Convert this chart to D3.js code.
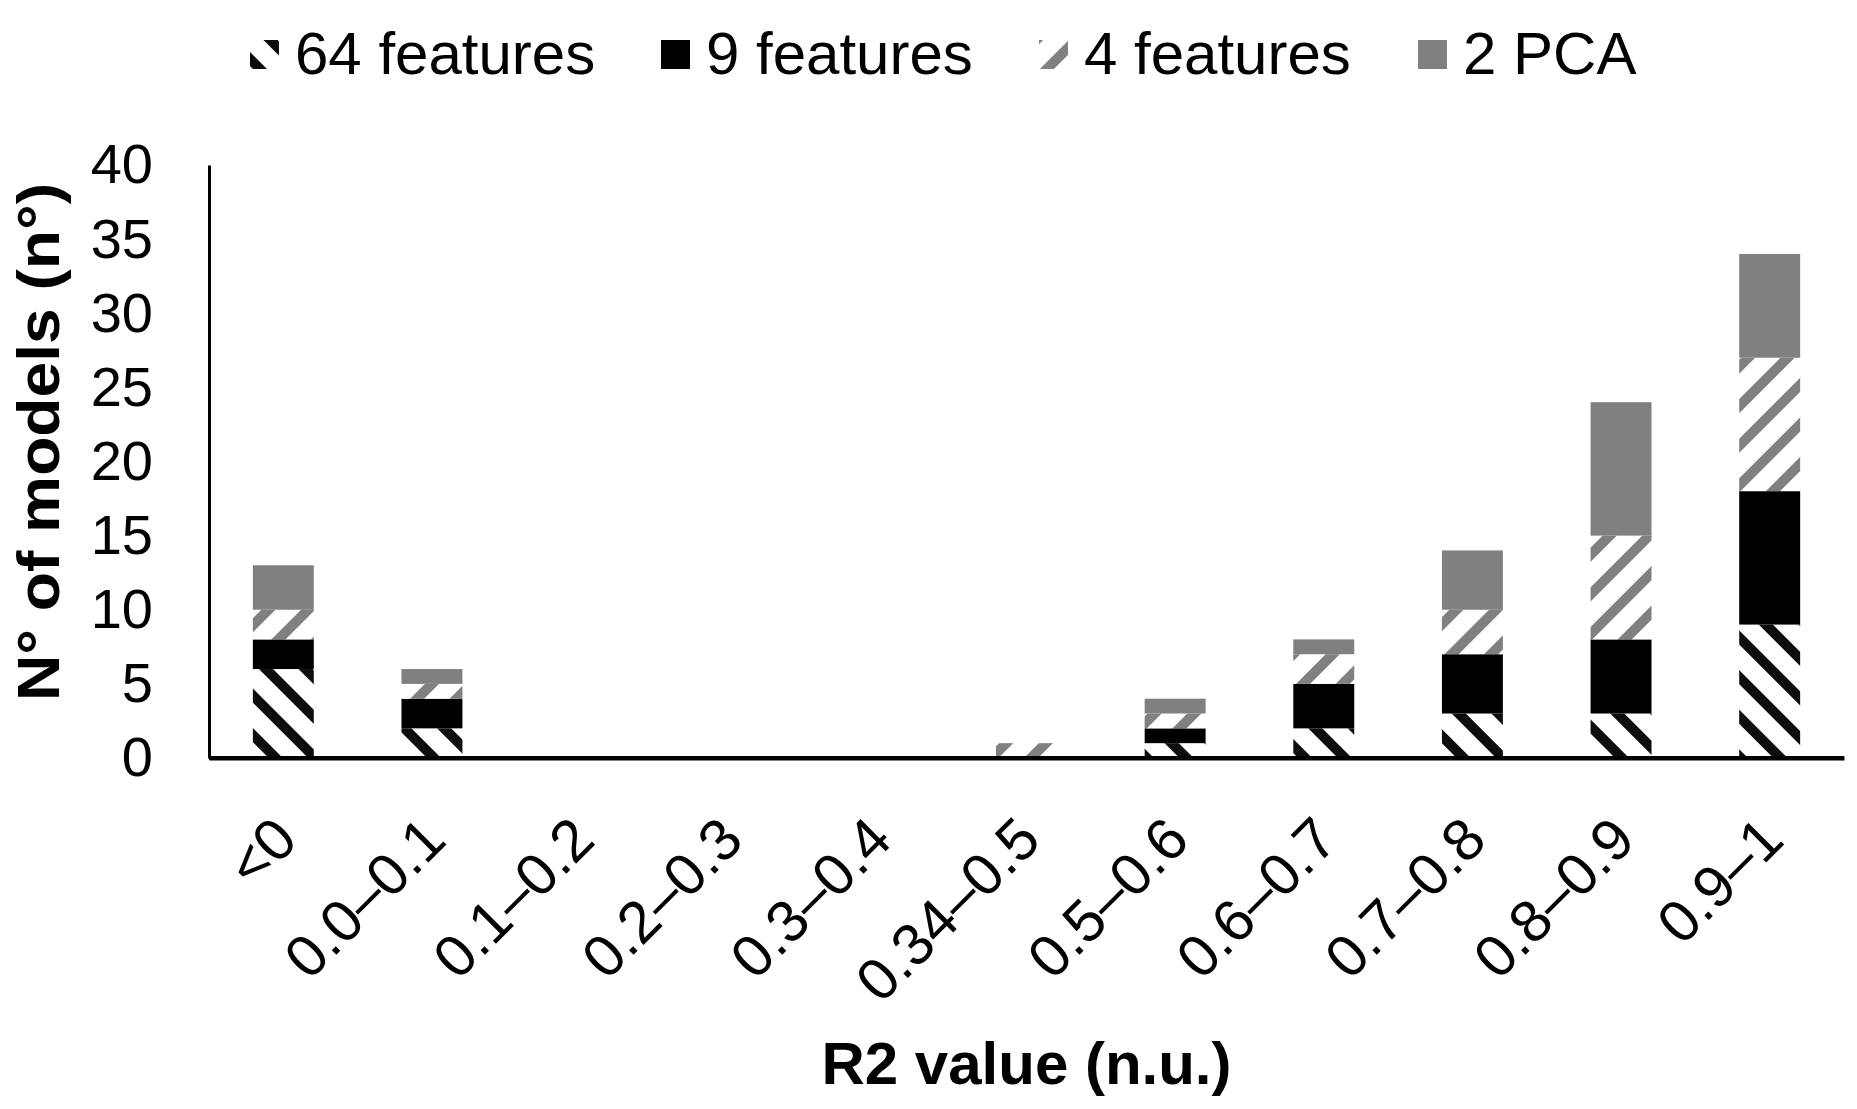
<!DOCTYPE html>
<html>
<head>
<meta charset="utf-8">
<script src="https://cdn.jsdelivr.net/npm/d3@7"></script>
<style>
  html, body { margin: 0; padding: 0; background: #fff; }
  svg { display: block; font-family: "Liberation Sans", Arial, sans-serif; }
</style>
</head>
<body>
<svg id="chart" width="1857" height="1109"></svg>
<script>
// ---- data ----
const categories = ["<0", "0.0–0.1", "0.1–0.2", "0.2–0.3", "0.3–0.4", "0.34–0.5", "0.5–0.6", "0.6–0.7", "0.7–0.8", "0.8–0.9", "0.9–1"];
const features64 = [6, 2, 0, 0, 0, 0, 1, 2, 3, 3, 9];
const features9  = [2, 2, 0, 0, 0, 0, 1, 3, 4, 5, 9];
const features4  = [2, 1, 0, 0, 0, 1, 1, 2, 3, 7, 9];
const pca2       = [3, 1, 0, 0, 0, 0, 1, 1, 4, 9, 7];
const seriesNames = ["64 features", "9 features", "4 features", "2 PCA"];
const yTicks = [0, 5, 10, 15, 20, 25, 30, 35, 40];
const xTitle = "R2 value (n.u.)";
const yTitle = "N° of models (n°)";

// ---- layout ----
const svg = d3.select("#chart");
const margin = { left: 209, right: 1844, top: 165, bottom: 758 };

const x = d3.scaleBand().domain(categories).range([margin.left, margin.right]).paddingInner(0.59).paddingOuter(0.295);
const y = d3.scaleLinear().domain([0, 40]).range([margin.bottom, margin.top]);

// patterns
const defs = svg.append("defs");
function stripe(id, color, dir) {
  const T = 28;
  const p = defs.append("pattern").attr("id", id).attr("patternUnits", "userSpaceOnUse")
    .attr("width", T).attr("height", T)
    .attr("patternTransform", `rotate(${dir})`);
  p.append("rect").attr("width", T).attr("height", T).attr("fill", "#fff");
  p.append("rect").attr("x", 0).attr("y", 0).attr("width", T).attr("height", 10).attr("fill", color);
}
stripe("p64", "#0d0d0d", 45);
stripe("p4", "#808080", -45);
const fills = ["url(#p64)", "#000000", "url(#p4)", "#808080"];

// stack
const rows = categories.map((c, i) => ({ cat: c, s0: features64[i], s1: features9[i], s2: features4[i], s3: pca2[i] }));
const stack = d3.stack().keys(["s0", "s1", "s2", "s3"])(rows);

svg.append("g").selectAll("g").data(stack).join("g")
  .attr("fill", (d, i) => fills[i])
  .selectAll("rect").data(d => d).join("rect")
  .attr("x", d => x(d.data.cat))
  .attr("width", x.bandwidth())
  .attr("y", d => y(d[1]))
  .attr("height", d => y(d[0]) - y(d[1]));

// y axis
const yAxis = svg.append("g").attr("transform", `translate(${margin.left},0)`)
  .call(d3.axisLeft(y).tickValues(yTicks).tickSize(0).tickPadding(56));
yAxis.select(".domain").attr("stroke", "#000").attr("stroke-width", 3);
yAxis.selectAll("text").attr("font-size", 56).attr("fill", "#000")
  .attr("font-family", "Liberation Sans, Arial, sans-serif");

// x axis
const xAxis = svg.append("g").attr("transform", `translate(0,${margin.bottom})`)
  .call(d3.axisBottom(x).tickSize(0).tickFormat(""));
xAxis.select(".domain").attr("stroke", "#000").attr("stroke-width", 4);
svg.append("line").attr("x1", margin.left).attr("x2", margin.right)
  .attr("y1", margin.bottom).attr("y2", margin.bottom).attr("stroke", "#000").attr("stroke-width", 4);

svg.append("g").selectAll("text").data(categories).join("text")
  .attr("transform", d => `translate(${x(d) + x.bandwidth() / 2 + 2},${margin.bottom + 70}) rotate(-45)`)
  .attr("text-anchor", "end")
  .attr("dy", "0.35em")
  .attr("font-size", 59)
  .attr("fill", "#000")
  .text(d => d);

// axis titles
svg.append("text").attr("x", (margin.left + margin.right) / 2).attr("y", 1084)
  .attr("text-anchor", "middle").attr("font-weight", "bold").attr("font-size", 60).text(xTitle);
svg.append("text").attr("transform", "translate(59,442) rotate(-90)")
  .attr("text-anchor", "middle").attr("font-weight", "bold").attr("font-size", 60)
  .attr("textLength", 518).attr("lengthAdjust", "spacingAndGlyphs").text(yTitle);

// legend
const legX = [250, 661, 1039, 1418];
const leg = svg.append("g");
seriesNames.forEach((n, i) => {
  leg.append("rect").attr("x", legX[i]).attr("y", 40).attr("width", 29).attr("height", 29).attr("fill", fills[i]);
  leg.append("text").attr("x", legX[i] + 45).attr("y", 74).attr("font-size", 60).attr("fill", "#000").text(n);
});
</script>
</body>
</html>
